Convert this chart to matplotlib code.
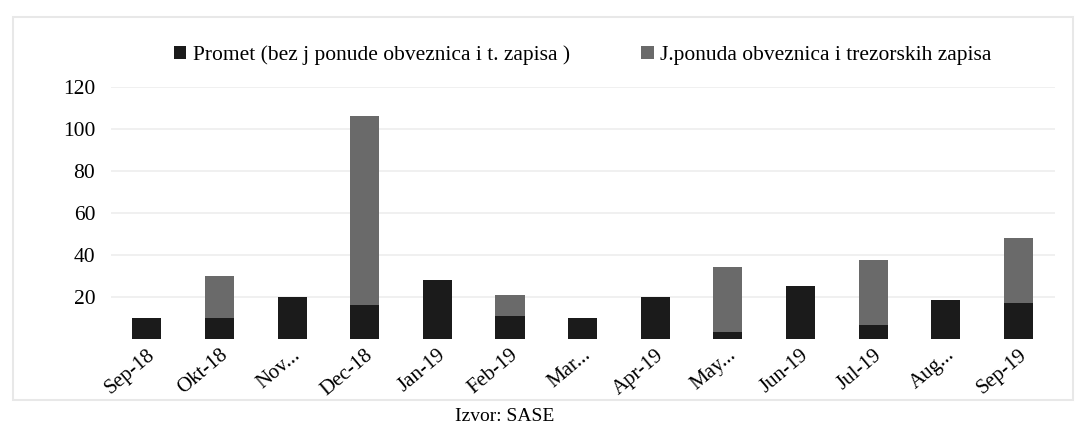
import matplotlib.pyplot as plt
import numpy as np
from matplotlib.patches import Rectangle

# data (approximate)
months = ["Sep-18", "Okt-18", "Nov...", "Dec-18", "Jan-19", "Feb-19", "Mar...",
          "Apr-19", "May...", "Jun-19", "Jul-19", "Aug...", "Sep-19"]
promet = [10, 10, 20, 16, 28, 11, 10, 20, 3, 25, 6.5, 18.5, 17]
j_ponuda = [0, 20, 0, 90, 0, 10, 0, 0, 31, 0, 31, 0, 31]

plt.rcParams['font.family'] = ['Liberation Serif', 'DejaVu Serif']

fig = plt.figure(figsize=(10.84, 4.32), dpi=100)
ax = fig.add_axes([0.102, 0.216, 0.871, 0.583])

x = np.arange(len(months))
width = 0.4
ax.bar(x, promet, width, color='#1b1b1b', label='Promet (bez j ponude obveznica i t. zapisa )', zorder=3)
ax.bar(x, j_ponuda, width, bottom=promet, color='#6a6a6a',
       label='J.ponuda obveznica i trezorskih zapisa', zorder=3)

ax.set_xlim(-0.5, len(months) - 0.5)
ax.set_ylim(0, 120)
ax.set_yticks([20, 40, 60, 80, 100, 120])
ax.yaxis.grid(True, color='#eeeeee', linewidth=1.2, zorder=0)
ax.tick_params(axis='y', length=0, labelsize=15.5, pad=11)
ax.set_xticks(x)
ax.set_xticklabels(months, rotation=40, ha='right', rotation_mode='anchor', fontsize=15)
ax.tick_params(axis='x', length=0, pad=5)
for s in ax.spines.values():
    s.set_visible(False)

ax.legend(loc='lower center', bbox_to_anchor=(0.5, 1.01), ncol=2, frameon=False,
          fontsize=15.5, handlelength=0.6, handleheight=0.6, columnspacing=3.3,
          handletextpad=0.3)

# faint frame around the chart
fig.patches.append(Rectangle((0.012, 0.075), 0.978, 0.885, transform=fig.transFigure,
                             fill=False, edgecolor='#e8e8e8', linewidth=1.5, zorder=0))

fig.text(0.466, 0.035, 'Izvor: SASE', ha='center', va='center', fontsize=14)

fig.savefig('out.png', dpi=100)
